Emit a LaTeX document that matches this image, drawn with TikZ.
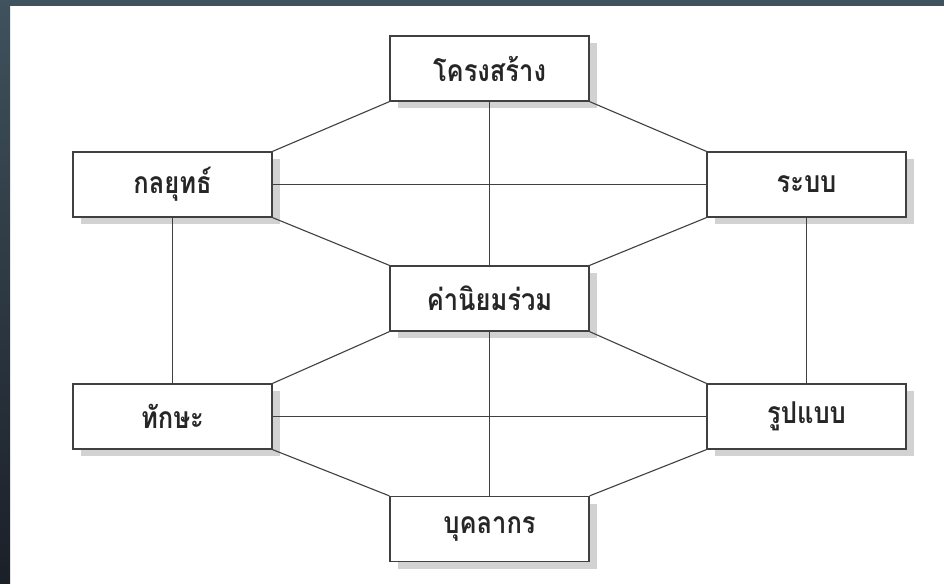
\documentclass[tikz,border=0pt]{standalone}
\usepackage{fontspec}
\usepackage{graphicx}
\usetikzlibrary{shadows}
\newfontfamily\thaifont[Script=Thai]{Loma}
\definecolor{frametop}{HTML}{3F525D}
\definecolor{framebot}{HTML}{1B1F28}
\definecolor{edge}{HTML}{404040}
\definecolor{shade}{HTML}{D2D2D2}
\newcommand{\thaitxt}[1]{\scalebox{1}[1.18]{#1}}
\tikzset{
  box/.style={draw=edge, line width=1.3pt, fill=white, minimum width=199pt, minimum height=65pt, inner sep=0pt,
    font=\thaifont\bfseries\fontsize{25.5}{28}\selectfont, text=black!85,
    general shadow={fill=shade, shadow xshift=8pt, shadow yshift=-7pt}},
  link/.style={draw=edge, line width=1.1pt}
}
\begin{document}
\begin{tikzpicture}[x=1pt,y=-1pt]
\useasboundingbox (0,0) rectangle (944,583);
\fill[white] (0,0) rectangle (944,583);
\shade[top color=frametop, bottom color=framebot] (0,0) rectangle (10,583);
\fill[frametop] (0,0) rectangle (944,6);
\node[box] (top) at (489.5,68.5) {\thaitxt{โครงสร้าง}};
\node[box] (lu) at (172.5,184.5) {\thaitxt{กลยุทธ์}};
\node[box] (ru) at (806.5,184.5) {\thaitxt{ระบบ}};
\node[box] (mid) at (489.5,298.5) {\thaitxt{ค่านิยมร่วม}};
\node[box] (ll) at (172.5,416.5) {\thaitxt{ทักษะ}};
\node[box] (rl) at (806.5,416.5) {\thaitxt{รูปแบบ}};
\node[box] (bot) at (489.5,529) {\thaitxt{บุคลากร}};
\draw[link] (top.south west) -- (lu.north east);
\draw[link] (top.south east) -- (ru.north west);
\draw[link] (top.south) -- (mid.north);
\draw[link] (lu.east) -- (ru.west);
\draw[link] (lu.south east) -- (mid.north west);
\draw[link] (ru.south west) -- (mid.north east);
\draw[link] (lu.south) -- (ll.north);
\draw[link] (ru.south) -- (rl.north);
\draw[link] (mid.south west) -- (ll.north east);
\draw[link] (mid.south east) -- (rl.north west);
\draw[link] (mid.south) -- (bot.north);
\draw[link] (ll.east) -- (rl.west);
\draw[link] (ll.south east) -- (bot.north west);
\draw[link] (rl.south west) -- (bot.north east);
\end{tikzpicture}
\end{document}
